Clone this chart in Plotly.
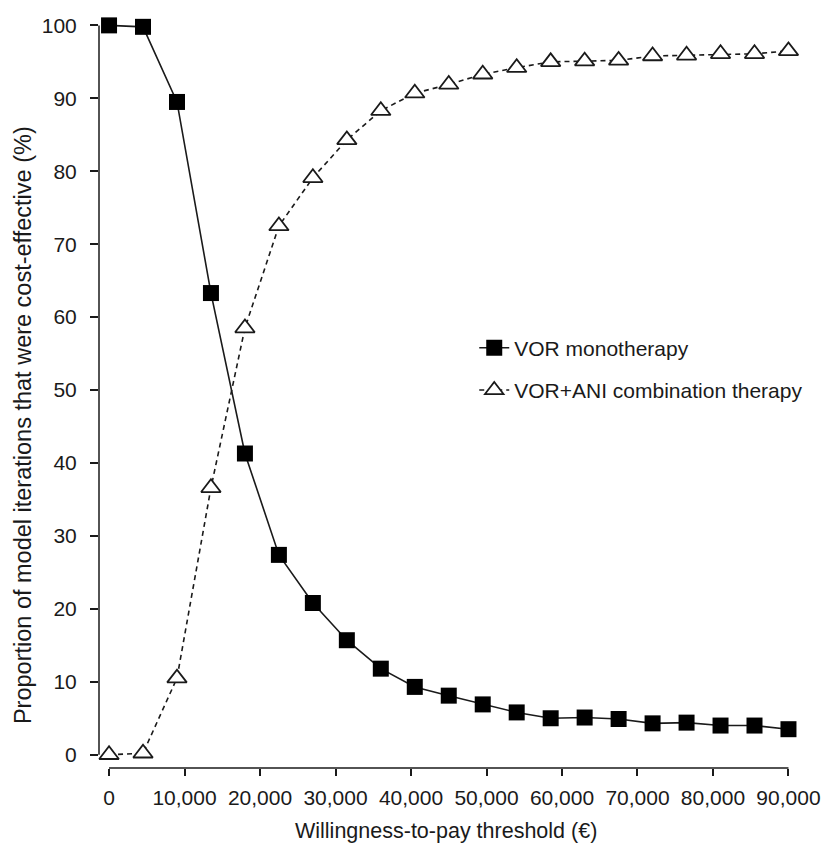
import plotly.graph_objects as go

wtp = [0, 4500, 9000, 13500, 18000, 22500, 27000, 31500, 36000, 40500, 45000,
       49500, 54000, 58500, 63000, 67500, 72000, 76500, 81000, 85500, 90000]
vor_mono = [100, 99.8, 89.5, 63.3, 41.3, 27.4, 20.8, 15.7, 11.8, 9.3, 8.1,
            6.9, 5.8, 5.0, 5.1, 4.9, 4.3, 4.4, 4.0, 4.0, 3.5]
vor_ani = [0, 0.2, 10.5, 36.6, 58.5, 72.5, 79.1, 84.3, 88.3, 90.7, 91.9,
           93.3, 94.2, 95.0, 95.1, 95.2, 95.8, 95.9, 96.1, 96.1, 96.5]
x_ticks = [0, 10000, 20000, 30000, 40000, 50000, 60000, 70000, 80000, 90000]
x_tick_labels = ["0", "10,000", "20,000", "30,000", "40,000", "50,000",
                 "60,000", "70,000", "80,000", "90,000"]
y_ticks = list(range(0, 101, 10))

FONT = "Liberation Sans, Arial, Helvetica, sans-serif"
INK = "#1a1a1a"

fig = go.Figure()
fig.add_trace(go.Scatter(
    x=wtp, y=vor_mono, name="VOR monotherapy", mode="lines+markers",
    line=dict(color=INK, width=1.6),
    marker=dict(symbol="square", size=16, color="black", line=dict(width=0)),
    cliponaxis=False, legendgroup="a",
))
fig.add_trace(go.Scatter(
    x=wtp, y=vor_ani, name="VOR+ANI combination therapy", mode="lines+markers",
    line=dict(color=INK, width=1.6, dash="5px,4px"),
    marker=dict(symbol="triangle-up", size=17, color="white",
                line=dict(width=1.8, color=INK)),
    cliponaxis=False, legendgroup="b",
))

# R-style axis lines spanning only first to last tick
fig.add_shape(type="line", xref="x", yref="paper", x0=x_ticks[0], x1=x_ticks[-1],
              y0=0, y1=0, line=dict(color=INK, width=1.5))
fig.add_shape(type="line", xref="paper", yref="y", x0=0, x1=0,
              y0=y_ticks[0], y1=y_ticks[-1], line=dict(color=INK, width=1.5))

fig.add_annotation(
    text="Proportion of model iterations that were cost-effective (%)",
    xref="paper", yref="paper", x=-0.1096, y=0.459, textangle=-90,
    showarrow=False, font=dict(family=FONT, size=23.5, color=INK),
    xanchor="center", yanchor="middle",
)
fig.add_annotation(
    text="Willingness-to-pay threshold (€)",
    xref="paper", yref="paper", x=0.5, y=-0.0837,
    showarrow=False, font=dict(family=FONT, size=21.5, color=INK),
    xanchor="center", yanchor="middle",
)

fig.update_layout(
    width=822, height=846,
    margin=dict(l=99, r=29, t=21, b=78, autoexpand=False),
    paper_bgcolor="white", plot_bgcolor="white",
    font=dict(family=FONT, size=21, color=INK),
    showlegend=True,
    legend=dict(x=0.5407, y=0.534, xanchor="left", yanchor="middle",
                bgcolor="rgba(0,0,0,0)", borderwidth=0,
                font=dict(family=FONT, size=21, color=INK),
                traceorder="grouped", tracegroupgap=12),
    xaxis=dict(range=[-1330, 90600], showgrid=False, zeroline=False, showline=False,
               automargin=False,
               tickmode="array", tickvals=x_ticks, ticktext=x_tick_labels,
               ticks="outside", ticklen=7, tickwidth=1.5, tickcolor=INK,
               ticklabelstandoff=4),
    yaxis=dict(range=[-1.82, 100.6], showgrid=False, zeroline=False, showline=False,
               automargin=False,
               tickmode="array", tickvals=y_ticks,
               ticks="outside", ticklen=8, tickwidth=1.5, tickcolor=INK,
               ticklabelstandoff=9),
)

fig.write_html("out.html", config={"displayModeBar": False},
               post_script="document.body.style.margin='0';")
